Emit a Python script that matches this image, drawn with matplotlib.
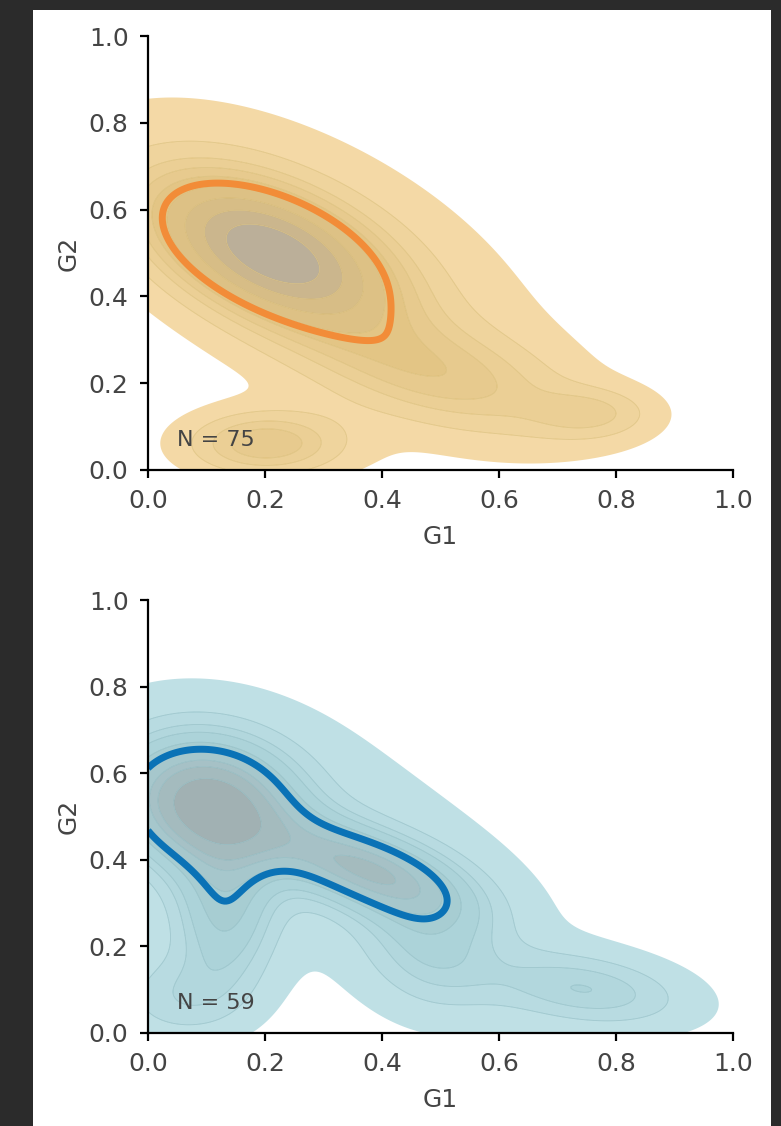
import numpy as np
import matplotlib
matplotlib.use("Agg")
import matplotlib.pyplot as plt
from matplotlib.colors import LinearSegmentedColormap
from matplotlib.patches import Rectangle

# density components (G1 centre, G2 centre, sd G1, sd G2, correlation, weight)
top_mu_x = [0.21, 0.30, 0.50, 0.20, 0.76]
top_mu_y = [0.50, 0.47, 0.22, 0.06, 0.13]
top_sd_x = [0.13, 0.28, 0.15, 0.09, 0.07]
top_sd_y = [0.11, 0.27, 0.09, 0.05, 0.04]
top_rho = [-0.5, -0.6, -0.5, 0.0, 0.0]
top_w = [0.48, 0.30, 0.12, 0.06, 0.02]
top_n = 75

bot_mu_x = [0.10, 0.37, 0.30, 0.13, 0.48, 0.75, 0.05]
bot_mu_y = [0.53, 0.38, 0.45, 0.28, 0.20, 0.10, 0.08]
bot_sd_x = [0.10, 0.12, 0.30, 0.06, 0.08, 0.12, 0.08]
bot_sd_y = [0.10, 0.08, 0.28, 0.12, 0.10, 0.06, 0.07]
bot_rho = [-0.1, -0.6, -0.55, 0.0, -0.2, -0.3, 0.0]
bot_w = [0.34, 0.18, 0.25, 0.10, 0.07, 0.07, 0.04]
bot_n = 59

# proportion level drawn as the thick line
top_hl = 0.55
bot_hl = 0.55


def density(xx, yy, mx, my, sx, sy, rho, w):
    z = np.zeros_like(xx)
    for a, b, c, d, r, k in zip(mx, my, sx, sy, rho, w):
        u = (xx - a) / c
        v = (yy - b) / d
        q = (u**2 - 2 * r * u * v + v**2) / (1 - r**2)
        z += k * np.exp(-0.5 * q) / (2 * np.pi * c * d * np.sqrt(1 - r**2))
    return z


def iso_levels(z, props):
    # same idea as seaborn's iso-proportion levels
    vals = np.sort(z.ravel())[::-1]
    cum = np.cumsum(vals) / vals.sum()
    idx = np.searchsorted(cum, 1 - np.asarray(props))
    return np.take(vals, idx, mode="clip")


gx = np.linspace(0, 1, 300)
xx, yy = np.meshgrid(gx, gx)

fig = plt.figure(figsize=(7.81, 11.26), dpi=100, facecolor="#2b2b2b")
fig.add_artist(Rectangle((33 / 781, 0), 738 / 781, 1116 / 1126,
                         transform=fig.transFigure, facecolor="white",
                         edgecolor="none", zorder=-10))

panels = [
    (top_mu_x, top_mu_y, top_sd_x, top_sd_y, top_rho, top_w, top_n, top_hl,
     ["#f6dcaa", "#e3c585", "#d4bb86", "#b3ab9f"], "#d4b565", "#f28c38",
     [0.1895, 0.5826, 0.749, 0.3854]),
    (bot_mu_x, bot_mu_y, bot_sd_x, bot_sd_y, bot_rho, bot_w, bot_n, bot_hl,
     ["#c3e3e8", "#a8d0d6", "#a5bec2", "#a0acad"], "#7fb2ba", "#0a72b6",
     [0.1895, 0.0826, 0.749, 0.3845]),
]

for mx, my, sx, sy, rho, w, n, hl, cols, lcol, hcol, pos in panels:
    ax = fig.add_axes(pos)
    ax.set_facecolor("none")
    z = density(xx, yy, mx, my, sx, sy, rho, w)
    props = np.linspace(0.05, 1, 10)
    lev = iso_levels(z, props)
    lev = np.unique(np.append(lev[:-1], z.max() * 1.001))
    cmap = LinearSegmentedColormap.from_list("c", cols)
    ax.contourf(xx, yy, z, levels=lev, cmap=cmap, antialiased=True)
    ax.contour(xx, yy, z, levels=lev[1:-1], colors=lcol, linewidths=0.6, alpha=0.6)
    ax.contour(xx, yy, z, levels=iso_levels(z, [hl]), colors=hcol, linewidths=5)

    ax.set_xlim(0, 1)
    ax.set_ylim(0, 1)
    ax.set_xticks(np.arange(0, 1.01, 0.2))
    ax.set_yticks(np.arange(0, 1.01, 0.2))
    ax.spines[["top", "right"]].set_visible(False)
    for s in ["left", "bottom"]:
        ax.spines[s].set_linewidth(1.6)
    ax.tick_params(length=6, width=1.6, labelsize=18, labelcolor="#444444", pad=8)
    ax.set_xlabel("G1", fontsize=18, color="#444444", labelpad=8)
    ax.set_ylabel("G2", fontsize=18, color="#444444", labelpad=6)
    ax.text(0.05, 0.055, f"N = {n}", fontsize=16, color="#444444")

fig.savefig("out.png", dpi=100, facecolor=fig.get_facecolor())
